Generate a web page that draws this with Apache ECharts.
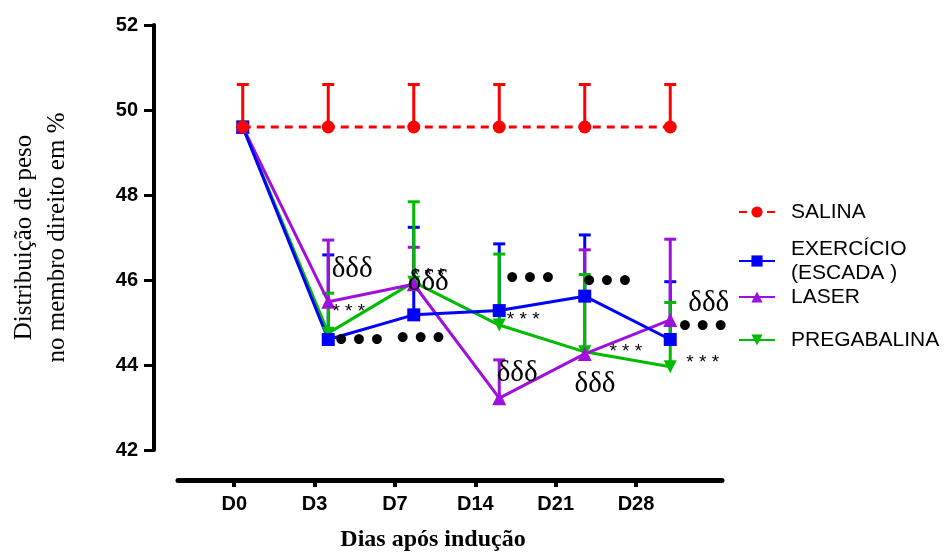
<!DOCTYPE html>
<html><head><meta charset="utf-8">
<script src="https://cdn.jsdelivr.net/npm/echarts@6/dist/echarts.min.js"></script>
<style>html,body{margin:0;padding:0;background:#fff}#c{width:950px;height:559px}</style>
</head><body><div id="c"></div>
<script>
const categories = ['D0','D3','D7','D14','D21','D28'];
const yTicks = [42,44,46,48,50,52];
const salina = [49.6,49.6,49.6,49.6,49.6,49.6];
const salinaTop = [50.6,50.6,50.6,50.6,50.6,50.6];
const exercicio = [49.6,44.6,45.18,45.28,45.62,44.6];
const exercicioTop = [null,46.59,47.24,46.85,47.06,45.96];
const laser = [49.6,45.49,45.9,43.22,44.26,45.06];
const laserTop = [null,46.94,46.77,44.12,46.71,46.96];
const pregabalina = [49.6,44.75,45.95,44.94,44.31,43.96];
const pregabalinaTop = [null,45.69,47.84,46.61,46.13,45.47];
// significance annotations: [x (category index units), y (value)]
const deltaMarks = [[1.28,46.24],[2.17,45.95],[3.21,43.81],[4.12,43.55],[5.45,45.46]];
const starMarks = [[1.24,45.25],[2.17,46.1],[3.28,45.06],[4.48,44.31],[5.38,44.05]];
const dotMarks = [[1.36,44.52],[2.08,44.56],[3.36,45.98],[4.26,45.91],[5.38,44.85]];

const RED='#FF0000', BLUE='#0000FF', PURPLE='#A010DC', GREEN='#00BB00';
const SANS='Liberation Sans', SERIF='Liberation Serif';

function pts(arr){ return arr.map((v,i)=>[i,v]); }
function errData(mean, top){ const out=[]; mean.forEach((v,i)=>{ if(top[i]!=null) out.push([i,v,top[i]]); }); return out; }
function errSeries(name, mean, top, color){
  return {
    type:'custom', name: name+'_err', xAxisIndex:0, yAxisIndex:0, z:3,
    data: errData(mean, top), encode:{x:0,y:[1,2]},
    renderItem(params, api){
      const x=api.value(0), m=api.value(1), t=api.value(2);
      const p0=api.coord([x,m]), p1=api.coord([x,t]);
      const w=6;
      return {type:'group', children:[
        {type:'line', shape:{x1:p0[0],y1:p0[1],x2:p1[0],y2:p1[1]}, style:{stroke:color,lineWidth:3}},
        {type:'line', shape:{x1:p1[0]-w,y1:p1[1],x2:p1[0]+w,y2:p1[1]}, style:{stroke:color,lineWidth:3}}
      ]};
    }
  };
}
function lineSeries(name, data, color, symbol, size, dashed, rot){
  return {
    type:'line', name, xAxisIndex:0, yAxisIndex:0, z:4,
    data: pts(data), symbol, symbolSize: size, showSymbol:true, symbolRotate: rot||0,
    lineStyle:{color, width:3, type: dashed ? [8,6] : 'solid'},
    itemStyle:{color},
    animation:false
  };
}
function annSeries(data, text, font){
  return {
    type:'scatter', xAxisIndex:0, yAxisIndex:0, z:6, symbolSize:1,
    itemStyle:{opacity:0}, silent:true,
    data: data,
    label:{show:true, position:'inside', formatter:text, color:'#000', opacity:1, ...font}
  };
}
function legendAt(name, top){
  return {
    data:[name], orient:'vertical', left:733, top, itemWidth:36, itemHeight:14,
    selectedMode:false,
    textStyle:{fontFamily:SANS, fontSize:21, color:'#000', lineHeight:24, padding:[0,0,0,11]}
  };
}

const chart = echarts.init(document.getElementById('c'), null, {renderer:'canvas'});
chart.setOption({
  animation:false,
  backgroundColor:'#fff',
  grid:[
    {left:196, width:517, top:25, bottom:109},
    {left:178, width:544, top:25, bottom:79}
  ],
  xAxis:[
    {type:'value', gridIndex:0, min:-0.5, max:5.5, show:false},
    {type:'value', gridIndex:1, min:-0.7, max:6.07,
     axisLine:{show:true, onZero:false, lineStyle:{color:'#000', width:5}},
     axisTick:{show:true, length:7, lineStyle:{color:'#000', width:4}, customValues:[0,1,2,3,4,5]},
     axisLabel:{show:true, margin:14, customValues:[0,1,2,3,4,5], formatter:v=>categories[Math.round(v)],
       fontFamily:SANS, fontWeight:'bold', fontSize:20, color:'#000'},
     splitLine:{show:false},
     name:'Dias após indução', nameLocation:'middle', nameGap:48,
     nameTextStyle:{fontFamily:SERIF, fontWeight:'bold', fontSize:24, color:'#000', padding:[0,34,0,0]}
    }
  ],
  yAxis:[
    {type:'value', gridIndex:0, min:42, max:52, interval:2, offset:46,
     axisLine:{show:true, onZero:false, lineStyle:{color:'#000', width:4}},
     axisTick:{show:true, length:10, lineStyle:{color:'#000', width:3}},
     axisLabel:{margin:16, fontFamily:SANS, fontWeight:'bold', fontSize:20, color:'#000'},
     splitLine:{show:false},
     name:'Distribuição de peso\nno membro direito em %', nameLocation:'middle', nameGap:80,
     nameTextStyle:{fontFamily:SERIF, fontSize:25, color:'#000', lineHeight:33}
    },
    {type:'value', gridIndex:1, show:false, min:0, max:1}
  ],
  legend:[
    legendAt('SALINA', 195),
    legendAt('EXERCÍCIO\n(ESCADA )', 232),
    legendAt('LASER', 280),
    legendAt('PREGABALINA', 323)
  ],
  series:[
    errSeries('SALINA', salina, salinaTop, RED),
    errSeries('EXERCÍCIO', exercicio, exercicioTop, BLUE),
    errSeries('LASER', laser, laserTop, PURPLE),
    errSeries('PREGABALINA', pregabalina, pregabalinaTop, GREEN),
    lineSeries('PREGABALINA', pregabalina, GREEN, 'triangle', 13, false, 180),
    lineSeries('LASER', laser, PURPLE, 'triangle', 14, false),
    lineSeries('EXERCÍCIO\n(ESCADA )', exercicio, BLUE, 'rect', 13, false),
    lineSeries('SALINA', salina, RED, 'circle', 13, true),
    annSeries(deltaMarks, 'δδδ', {fontFamily:SERIF, fontSize:29}),
    annSeries(starMarks, '* * *', {fontFamily:SANS, fontSize:19}),
    annSeries(dotMarks, '•••', {fontFamily:'DejaVu Sans', fontSize:28, fontWeight:'bold'})
  ]
});
</script></body></html>
